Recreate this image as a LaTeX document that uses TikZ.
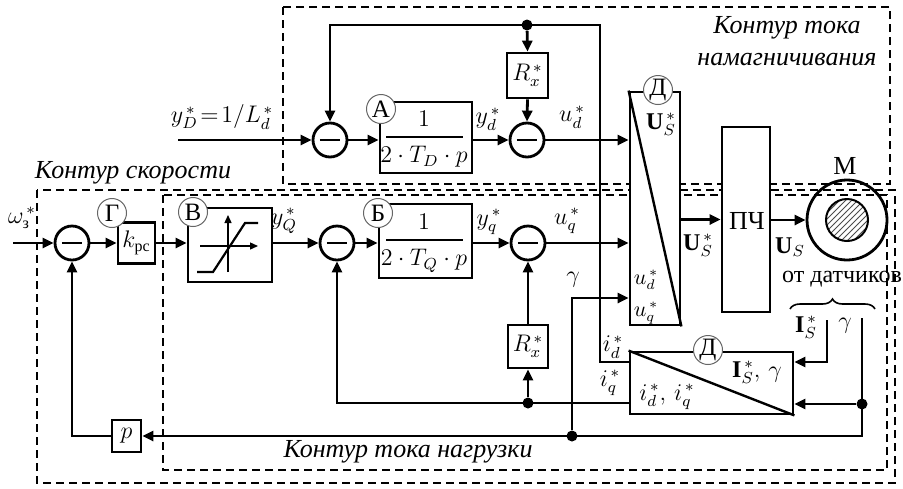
\documentclass[tikz,border=0pt]{standalone}
\usepackage{amsmath}
\usepackage{fontspec}
\setmainfont{Liberation Serif}
\usetikzlibrary{arrows.meta,decorations.pathreplacing,patterns,calc}
\tikzset{
  wire/.style={line width=1.4pt},
  arr/.style={wire,-{Triangle[length=5.5pt,width=5pt]}},
  blk/.style={draw,line width=1.4pt,fill=white,inner sep=0pt},
  sumc/.style={circle,draw,line width=1.4pt,minimum size=17pt,inner sep=0pt,fill=white,
    path picture={\draw[line width=1.4pt]
      ($(path picture bounding box.west)!0.2!(path picture bounding box.east)$) --
      ($(path picture bounding box.west)!0.8!(path picture bounding box.east)$);}},
  tag/.style={circle,draw=black!60,line width=0.5pt,fill=white,minimum size=14.5pt,inner sep=0pt,font=\fontsize{12.5}{12}\selectfont},
  lbl/.style={font=\fontsize{12}{14}\selectfont,inner sep=1pt},
  smlbl/.style={font=\fontsize{10.5}{11}\selectfont,inner sep=0pt,align=left},
  captxt/.style={font=\fontsize{13}{16}\selectfont\itshape,inner sep=0pt,align=center},
  frame/.style={line width=0.8pt,dash pattern=on 4pt off 2.5pt},
  dot/.style={circle,fill,inner sep=0pt,minimum size=5.5pt},
}
\begin{document}
\begin{tikzpicture}[x=0.5pt,y=-0.5pt]
\useasboundingbox (0,0) rectangle (903,488);
% frames
\draw[frame] (283,7) rectangle (890,184);
\draw[frame] (37,190) rectangle (895,483);
\draw[frame] (163,195) rectangle (887,470);
\node[captxt] (capU) at (787,41) {Контур тока\\намагничивания};
\node[captxt] (capS) at (133,173) {Контур скорости};
\node[captxt] (capL) at (408,452) {Контур тока нагрузки};

% d-axis row
\node[sumc] (s1) at (330,140) {};
\node[blk,minimum width=46pt,minimum height=35.5pt] (A) at (426,137.5) {};
\node[lbl] (An) at (424,119) {$1$};
\draw[line width=0.6pt] (386,137) -- (463,137);
\node[lbl] (Ad) at (424,157) {$2\cdot T_D\cdot p$};
\node[tag] (tA) at (381,109) {А};
\node[sumc] (s2) at (527,140) {};
\node[blk,minimum width=20.5pt,minimum height=22.5pt] (Rx1) at (527.5,75.5) {};
\node[lbl] at (Rx1) {$R_x^{\,*}$};

% D1 block
\node[blk,minimum width=25pt,minimum height=116.5pt] (D1) at (655,208.5) {};
\draw[line width=1.2pt] (D1.north west) -- (D1.south east);
\node[tag] (tD1) at (658,90) {Д};
\node[lbl] (D1a) at (661,124) {$\mathbf{U}_S^{\,*}$};
\node[smlbl] (D1b) at (646,297) {$u_d^{\,*}$\\[5pt]$u_q^{\,*}$};

% PCh and motor
\node[blk,minimum width=24pt,minimum height=92.5pt] (PCh) at (746,219.5) {};
\node[font=\fontsize{13}{14}\selectfont] at (747,221) {ПЧ};
\node[circle,draw,line width=1.4pt,minimum size=40pt,inner sep=0pt] (M) at (847,220) {};
\node[circle,draw,line width=1pt,minimum size=21pt,inner sep=0pt,pattern=north east lines,pattern color=black!70] (Min) at (847,220) {};
\node[font=\fontsize{13}{14}\selectfont] (Mlab) at (845,166) {М};

% speed row
\node[sumc] (s0) at (72,243) {};
\node[blk,minimum width=18.5pt,minimum height=20.5pt] (G) at (136.5,243) {};
\node[lbl] at (G) {$k_{\text{рс}}$};
\node[tag] (tG) at (112,213) {Г};
\node[blk,minimum width=42pt,minimum height=37pt] (V) at (230,245) {};
\draw[line width=0.7pt,-{Triangle[length=4pt,width=3.5pt]}] (200,246) -- (258,246);
\draw[line width=0.7pt,-{Triangle[length=4pt,width=3.5pt]}] (228,272) -- (228,215);
\draw[line width=1.1pt] (197,272) -- (213,272) -- (245,223) -- (258,223);
\node[tag] (tV) at (193,212) {В};
\node[sumc] (s3) at (337,243) {};
\node[blk,minimum width=46.5pt,minimum height=37pt] (B) at (425.5,241) {};
\node[lbl] (Bn) at (424,222) {$1$};
\draw[line width=0.6pt] (386,240) -- (463,240);
\node[lbl] (Bd) at (424,261) {$2\cdot T_Q\cdot p$};
\node[tag] (tB) at (378,213) {Б};
\node[sumc] (s4) at (528,243) {};
\node[blk,minimum width=20pt,minimum height=21.5pt] (Rx2) at (528,346.5) {};
\node[lbl] at (Rx2) {$R_x^{\,*}$};

% D2 block
\node[blk,minimum width=81.5pt,minimum height=31pt] (D2) at (711.5,383) {};
\draw[line width=1.2pt] (D2.north west) -- (D2.south east);
\node[tag] (tD2) at (708,350) {Д};
\node[lbl] (D2a) at (757,372) {$\mathbf{I}_S^{\,*},\,\gamma$};
\node[lbl] (D2b) at (667,397) {$i_d^{\,*},\,i_q^{\,*}$};

% p block
\node[blk,minimum width=14.5pt,minimum height=16pt] (P) at (126.5,436) {};
\node[lbl] at (P) {$p$};

% junction dots
\node[dot] (j1) at (527,25) {};
\node[dot] (j2) at (528,403) {};
\node[dot] (j3) at (572,436) {};
\node[dot] (j4) at (862,404) {};

% coordinates
\coordinate (in1) at (178,140);
\coordinate (in2) at (13,243);
\coordinate (idc) at (600,362);
\coordinate (idt) at (600,25);
\coordinate (iqc) at (337,403);
\coordinate (gc) at (572,298);
\coordinate (isS) at (827,320);
\coordinate (isC) at (827,362);
\coordinate (gS) at (862,318);
\coordinate (gB) at (862,436);

% d wires
\draw[arr] (in1) -- (s1.west);
\draw[arr] (s1.east) -- (A.west |- s1);
\draw[arr] (A.east |- s2) -- (s2.west);
\draw[arr] (s2.east) -- (D1.west |- s2);
\draw[arr] (idc -| D2.west) -- (idc) -- (idt) -| (s1.north);
\draw[arr] (j1) -- (Rx1.north);
\draw[arr] (Rx1.south) -- (s2.north);

% speed / q wires
\draw[arr] (in2) -- (s0.west);
\draw[arr] (s0.east) -- (G.west);
\draw[arr] (G.east) -- (V.west |- G.east);
\draw[arr] (V.east |- s3) -- (s3.west);
\draw[arr] (s3.east) -- (B.west |- s3);
\draw[arr] (B.east |- s4) -- (s4.west);
\draw[arr] (s4.east) -- (D1.west |- s4);
\draw[arr] (j2 -| D2.west) -- (iqc) -- (s3.south);
\draw[arr] (j2) -- (Rx2.south);
\draw[arr] (Rx2.north) -- (s4.south);
\draw[arr] (j3) -- (gc) -- (gc -| D1.west);

% power path
\draw[arr] (D1.east |- PCh) -- (PCh.west);
\draw[arr] (PCh.east |- M) -- (M.west);

% sensors
\draw[arr] (isS) -- (isC) -- (isC -| D2.east);
\draw[arr] (gS) -- (gB) -- (P.east);
\draw[arr] (j4) -- (j4 -| D2.east);
\draw[arr] (P.west) -| (s0.south);
\draw[line width=0.8pt,decorate,decoration={brace,amplitude=5pt}] (790,309) -- (875,309);

% labels
\node[lbl] (lyD) at (222,117) {$y_D^{\,*}\!=\!1/L_d^{\,*}$};
\node[lbl] (lyd) at (488,119) {$y_d^{\,*}$};
\node[lbl] (lud) at (572,117) {$u_d^{\,*}$};
\node[lbl] (lw) at (22,218) {$\omega_{\text{з}}^{\,*}$};
\node[lbl] (lyQ) at (284,221) {$y_Q^{\,*}$};
\node[lbl] (lyq) at (489,222) {$y_q^{\,*}$};
\node[lbl] (luq) at (567,221) {$u_q^{\,*}$};
\node[lbl] (lg) at (573,280) {$\gamma$};
\node[lbl] (lUs1) at (698,245) {$\mathbf{U}_S^{\,*}$};
\node[lbl] (lUs2) at (790,247) {$\mathbf{U}_S$};
\node[lbl] (lsens) at (842,279) {от датчиков};
\node[lbl] (lIs) at (806,327) {$\mathbf{I}_S^{\,*}$};
\node[lbl] (lgs) at (845,326) {$\gamma$};
\node[lbl] (lid) at (613,347) {$i_d^{\,*}$};
\node[lbl] (liq) at (610,383) {$i_q^{\,*}$};
\end{tikzpicture}
\end{document}
